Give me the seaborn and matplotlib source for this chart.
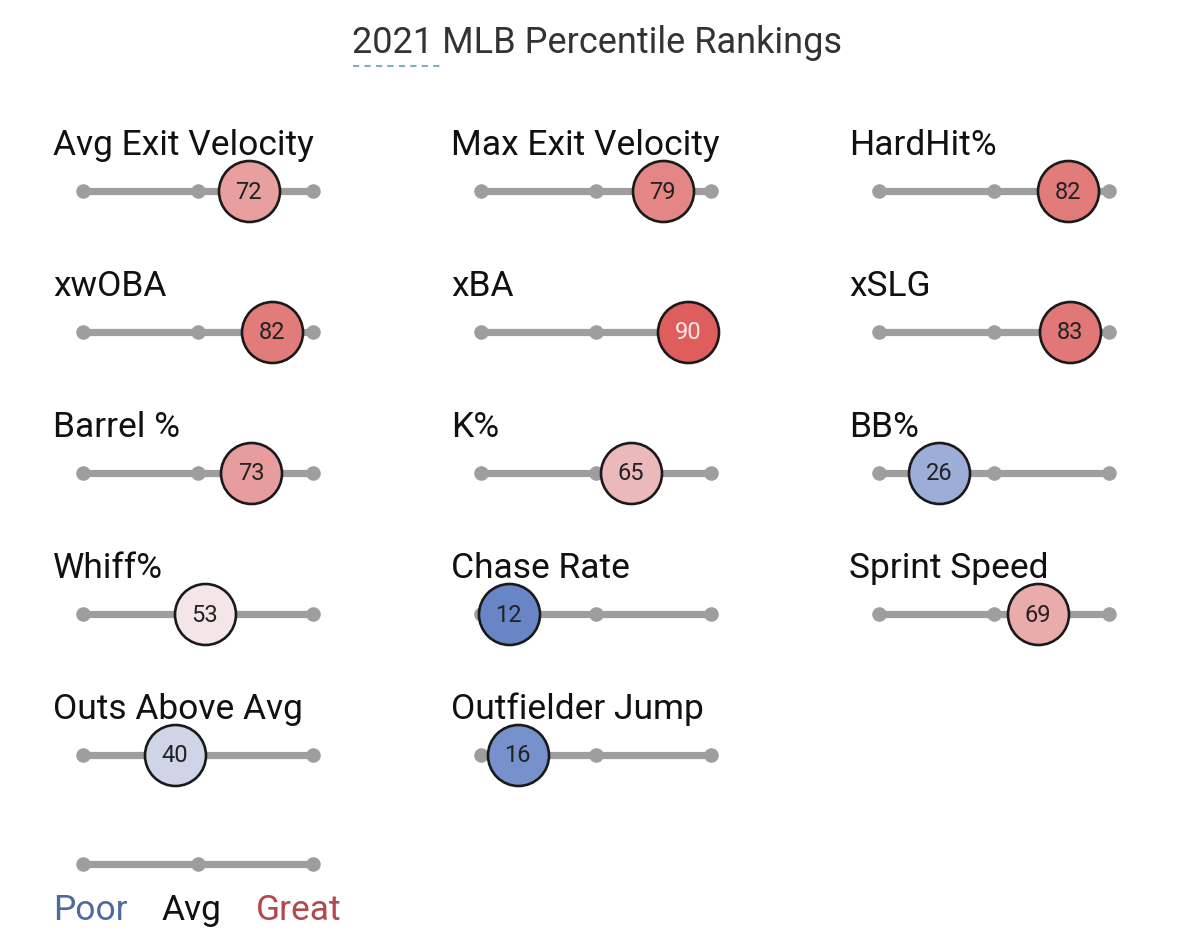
import numpy as np
import pandas as pd
import seaborn as sns
import matplotlib.pyplot as plt
from matplotlib.colors import LinearSegmentedColormap
from matplotlib.lines import Line2D

# percentile values (row by row, 3 per row)
metrics = ["Avg Exit Velocity", "Max Exit Velocity", "HardHit%",
           "xwOBA", "xBA", "xSLG",
           "Barrel %", "K%", "BB%",
           "Whiff%", "Chase Rate", "Sprint Speed",
           "Outs Above Avg", "Outfielder Jump"]
percentiles = [72, 79, 82,
               82, 90, 83,
               73, 65, 26,
               53, 12, 69,
               40, 16]
legend_words = ["Poor", "Avg", "Great"]
legend_colors = ["#4f6a9c", "#111111", "#b5474e"]
title = "2021 MLB Percentile Rankings"

sns.set_theme(style="white")
plt.rcParams['font.family'] = ['Roboto', 'DejaVu Sans']

W, H = 1200, 937
PX = 0.72  # points per pixel at dpi 100
fig = plt.figure(figsize=(12, 9.37), dpi=100)

savant = LinearSegmentedColormap.from_list("savant", ["#3c66b8", "#f5f0f3", "#d73a37"])

track_x0 = [83, 481, 879]
track_w = 230
first_row = 192
row_step = 141
ax_h = 100
grey = "#9e9e9e"


def add_track(x0, yc):
    ax = fig.add_axes([x0 / W, 1 - (yc + ax_h / 2) / H, track_w / W, ax_h / H])
    ax.set_xlim(0, 100)
    ax.set_ylim(-1, 1)
    ax.axis('off')
    sns.lineplot(x=[0, 100], y=[0, 0], color=grey, lw=5.2, solid_capstyle='round',
                 clip_on=False, ax=ax)
    sns.scatterplot(x=[0, 50, 100], y=[0, 0, 0], color=grey, s=110, linewidth=0,
                    clip_on=False, zorder=3, ax=ax)
    return ax


for i, (name, val) in enumerate(zip(metrics, percentiles)):
    row, col = divmod(i, 3)
    ax = add_track(track_x0[col], first_row + row * row_step)
    ax.annotate(name, xy=(0, 0), xytext=(-30 * PX, 37 * PX), textcoords='offset points',
                ha='left', va='baseline', fontsize=25.5, color='#111111', zorder=2,
                annotation_clip=False)
    sns.scatterplot(x=[val], y=[0], s=(61 * PX) ** 2, color=savant(val / 100),
                    edgecolor='#1a1a1a', linewidth=1.9, zorder=5, clip_on=False, ax=ax)
    txt_col = '#fbe9ea' if val >= 85 else '#222222'
    ax.text(val, 0, str(val), ha='center', va='center', fontsize=17, color=txt_col,
            zorder=6, clip_on=False)

# legend track
lax = add_track(track_x0[0], 865)
for word, colr, xv, ha, dx in zip(legend_words, legend_colors, [0, 50, 100],
                                  ['left', 'center', 'right'], [-30, -7, 28]):
    lax.annotate(word, xy=(xv, 0), xytext=(dx * PX, -55 * PX), textcoords='offset points',
                 ha=ha, va='baseline', fontsize=25.5, color=colr, annotation_clip=False)

fig.text(597 / W, 1 - 53 / H, title, ha='center', va='baseline', fontsize=26, color='#333333')
fig.add_artist(Line2D([353 / W, 442 / W], [1 - 67 / H] * 2, transform=fig.transFigure,
                      color='#7fb0bf', lw=1.5, ls=(0, (3, 2.5))))

fig.savefig('out.png', dpi=100)
